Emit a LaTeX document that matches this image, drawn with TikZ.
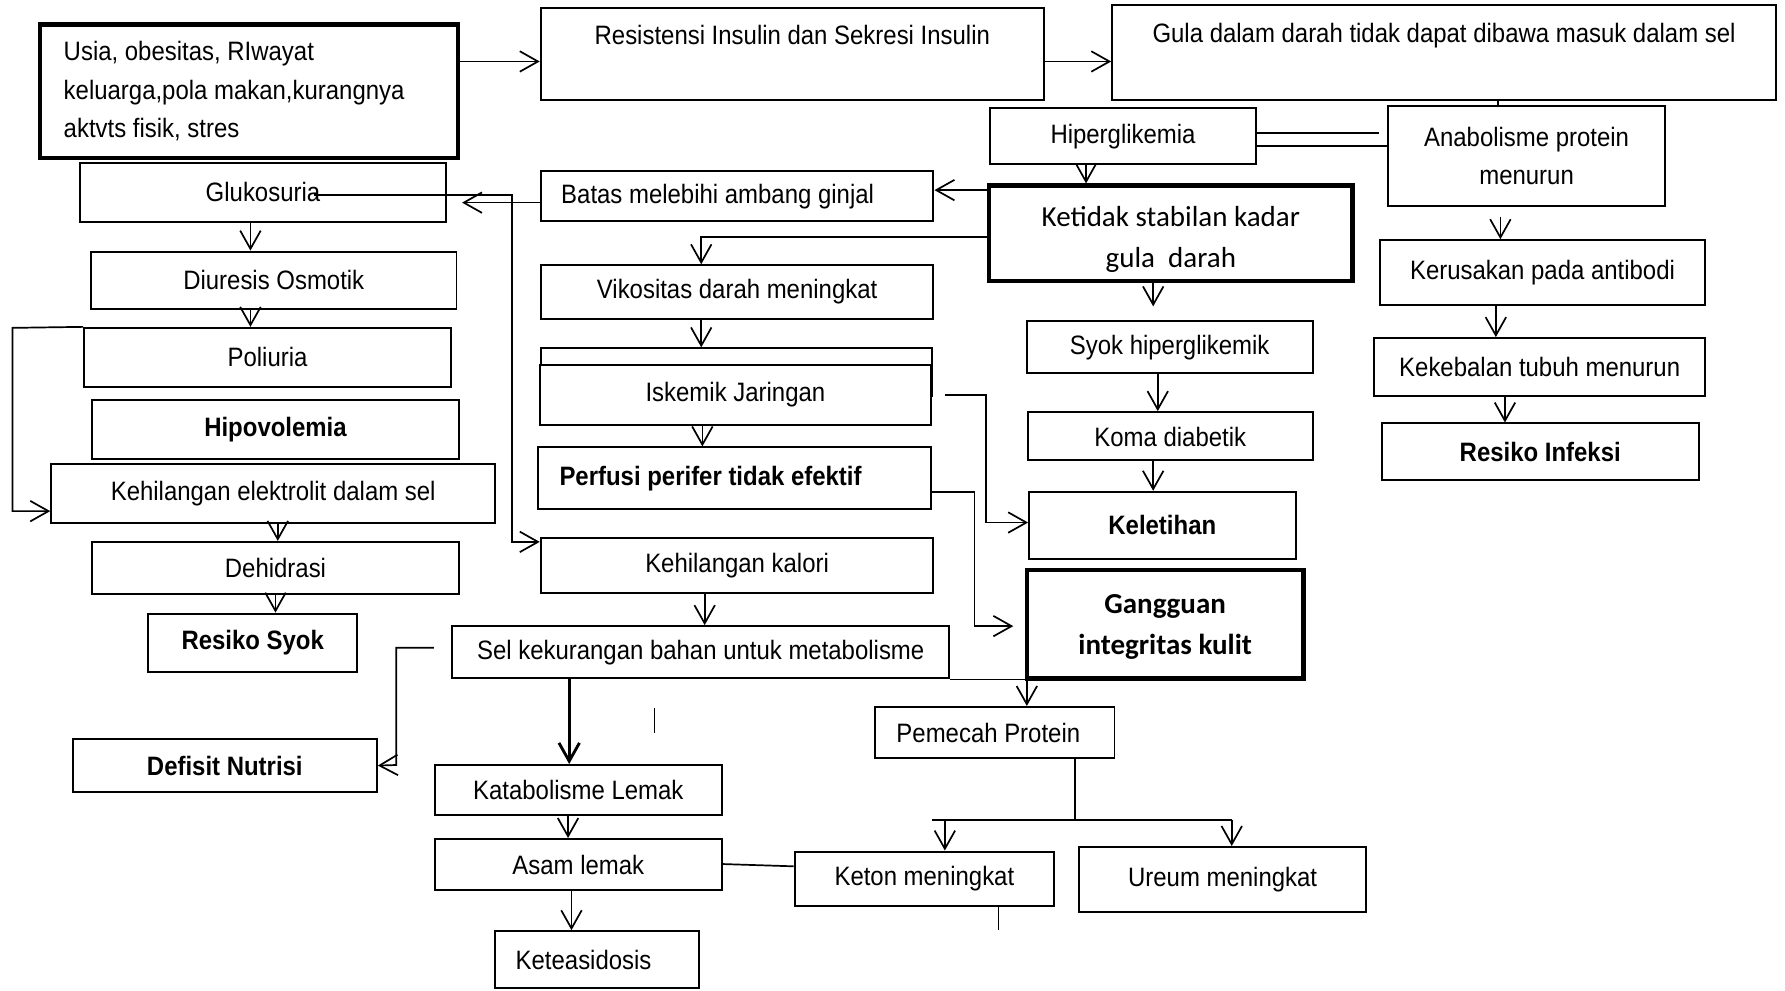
\documentclass[tikz,border=0pt]{standalone}
\usepackage{fontspec}
\usepackage{tikz}
\usetikzlibrary{arrows.meta,positioning}
\newfontfamily\nar{Liberation Sans}[FakeStretch=0.9]
\newfontfamily\calib{Carlito}
\newcommand{\fn}{\nar\fontsize{13.3}{19.3}\selectfont}
\newcommand{\fc}{\calib\fontsize{14.5}{20.5}\selectfont}

\begin{document}
\begin{tikzpicture}[
    x=0.2mm, y=-0.2mm,
    box/.style={draw, line width=0.35mm, inner sep=0pt, font=\fn, align=center},
    bbox/.style={box, font=\fn\bfseries},
    hbox/.style={box, line width=0.75mm},
    sz/.style 2 args={minimum width=#1*0.2mm, minimum height=#2*0.2mm},
    arr/.style={-{Straight Barb[length=3.2mm,width=3.6mm]}, line width=0.3mm},
    ln/.style={line width=0.3mm}
]
\useasboundingbox (0,0) rectangle (1568,870);

\node[hbox, sz={367}{117}, text width=65mm, align=flush left] (usia) at (218.5,80) {Usia, obesitas, RIwayat\\keluarga,pola makan,kurangnya\\aktvts fisik, stres};
\node[box, sz={442}{81}] (res) at (696,47.5) {Resistensi Insulin dan Sekresi Insulin\\\mbox{}};
\node[box, sz={583}{84}] (gula) at (1268.5,46) {Gula dalam darah tidak dapat dibawa masuk dalam sel\\\mbox{}};
\node[box, sz={233}{49}] (hip) at (986.5,119.5) {\rule{0pt}{3.6mm}Hiperglikemia};
\node[box, sz={244}{88}] (ana) at (1341,137) {Anabolisme protein\\menurun};
\node[box, sz={345}{44}, text width=61.8mm, align=flush left] (bat) at (647.5,172) {\rule{0pt}{3.6mm}Batas melebihi ambang ginjal};
\node[hbox, font=\fc, sz={319}{84}] (ket) at (1028.5,205) {\rule{0pt}{5.7mm}Ketidak stabilan kadar\\gula\ \ darah};
\node[box, sz={286}{57}] (rus) at (1355,239.5) {Kerusakan pada antibodi};
\node[box, sz={291}{51}] (kek) at (1352.5,322.5) {Kekebalan tubuh menurun};
\node[bbox, sz={278}{50}] (rinf) at (1353,397) {Resiko Infeksi};

\node[box, sz={322}{52}] (glu) at (231,169) {Glukosuria};
\node[box, sz={321}{50}] (diu) at (240.5,246) {Diuresis Osmotik};
\node[box, sz={322}{52}] (pol) at (235,314) {Poliuria};
\node[bbox, sz={322}{52}] (hipo) at (242,377) {Hipovolemia};
\node[box, sz={390}{51}] (elek) at (240,433.5) {Kehilangan elektrolit dalam sel};
\node[box, sz={322}{46}] (deh) at (242,499) {Dehidrasi};
\node[bbox, sz={184}{51}] (rsyok) at (222,564.5) {Resiko Syok};

\node[box, sz={345}{47}] (vik) at (647.5,256.5) {Vikositas darah meningkat};
\node[box, sz={344}{42}] (isk0) at (647,327) {};
\node[box, fill=white, sz={344}{52}] (isk) at (646,347) {Iskemik Jaringan};
\node[bbox, sz={345}{54}, text width=61.6mm, align=flush left] (perf) at (645.5,420) {Perfusi perifer tidak efektif};
\node[box, sz={345}{48}] (kal) at (647.5,497) {Kehilangan kalori};
\node[box, sz={437}{46}] (sel) at (615.5,573) {\rule{0pt}{3.6mm}Sel kekurangan bahan untuk metabolisme};
\node[bbox, sz={267}{47}] (def) at (197.5,672.5) {Defisit Nutrisi};
\node[box, sz={252}{44}] (kat) at (508,694) {Katabolisme Lemak};
\node[box, sz={252}{45}] (asam) at (508,759.5) {Asam lemak};
\node[box, sz={179}{50}, text width=28.6mm, align=flush left] (asid) at (524.5,843) {Keteasidosis};

\node[box, sz={251}{46}] (syok) at (1027.5,305) {Syok hiperglikemik};
\node[box, sz={250}{42}] (koma) at (1028,383) {\rule{0pt}{3.6mm}Koma diabetik};
\node[bbox, sz={234}{59}] (leti) at (1021,461.5) {Keletihan};
\node[hbox, font=\fc\bfseries, sz={243}{95}] (kulit) at (1023.5,548.5) {\rule{0pt}{4.2mm}Gangguan\\integritas kulit};
\node[box, sz={210}{45}, text width=34.6mm, align=flush left] (pem) at (874,643.5) {Pemecah Protein};
\node[box, sz={228}{48}] (keton) at (812,772) {Keton meningkat};
\node[box, sz={252}{57}] (ureum) at (1074,772.5) {Ureum meningkat};

\coordinate (g0) at (276,171);
\coordinate (h0) at (1211,117);
\coordinate (m0) at (575,622);
\coordinate (m1) at (575,644);
\coordinate (k0) at (877,817);
\coordinate (jl) at (819,720);
\coordinate (jm) at (944,720);
\coordinate (jr) at (1082,720);

\draw[arr] (usia.east |- 0,54) -- (res.west |- 0,54);
\draw[arr] (res.east |- 0,54) -- (gula.west |- 0,54);
\draw[ln] (gula.south -| 1316,0) -- (ana.north -| 1316,0);
\draw[ln] (hip.east |- 0,117) -- (h0);
\draw[ln] (hip.east |- 0,128) -- (ana.west |- 0,128);
\draw[arr] (hip.south -| 954,0) -- (ket.north -| 954,0);
\draw[arr] (ket.west |- 0,167) -- (bat.east |- 0,167);
\draw[arr] (ket.west |- 0,208) -| (vik.north -| 616,0);
\draw[arr, shorten >=2.6mm] (bat.west |- 0,178) -- (glu.east |- 0,178);
\draw[arr] (g0) -- (450,171) -- (450,476) -- (kal.west |- 0,476);

\draw[arr] (glu.south -| 220,0) -- (diu.north -| 220,0);
\draw[arr] (diu.south -| 220,0) -- (pol.north -| 220,0);
\draw[arr] (pol.north west) -- (11,288) -- (11,449) -- (elek.west |- 0,449);
\draw[arr] (elek.south -| 244,0) -- (deh.north -| 244,0);
\draw[arr] (deh.south -| 242,0) -- (rsyok.north -| 242,0);

\draw[arr] (vik.south -| 616,0) -- (isk0.north -| 616,0);
\draw[arr] (isk.south -| 617,0) -- (perf.north -| 617,0);
\draw[arr, shorten <=2.2mm] (isk.east |- 0,347) -- (866,347) -- (866,459) -- (leti.west |- 0,459);
\draw[arr, shorten >=2mm] (perf.east |- 0,432) -- (856,432) -- (856,550) -- (kulit.west |- 0,550);
\draw[arr] (kal.south -| 619,0) -- (sel.north -| 619,0);
\draw[arr, shorten <=3mm] (sel.west |- 0,569) -- (348,569) -- (348,672) -- (def.east);
\draw[arr, line width=0.5mm] (sel.south -| 500,0) -- (kat.north -| 500,0);
\draw[arr] (sel.south east) -| (pem.north -| 902,0);
\draw[ln] (m0) -- (m1);
\draw[arr] (kat.south -| 499,0) -- (asam.north -| 499,0);
\draw[arr] (asam.south -| 502,0) -- (asid.north -| 502,0);
\draw[ln] (asam.east |- 0,759) -- (keton.west |- 0,761);
\draw[ln] (pem.south -| jm) -- (jm);
\draw[ln] (jl) -- (jr);
\draw[arr] (jl -| 830,0) -- (keton.north -| 830,0);
\draw[arr] (jr) -- (ureum.north -| jr);
\draw[ln] (keton.south -| k0) -- (k0);

\draw[arr, shorten >=2.4mm] (ket.south -| 1013,0) -- (syok.north -| 1013,0);
\draw[arr] (syok.south -| 1017,0) -- (koma.north -| 1017,0);
\draw[arr] (koma.south -| 1013,0) -- (leti.north -| 1013,0);
\draw[arr, shorten <=1.7mm] (ana.south -| 1318,0) -- (rus.north -| 1318,0);
\draw[arr] (rus.south -| 1314,0) -- (kek.north -| 1314,0);
\draw[arr] (kek.south -| 1322,0) -- (rinf.north -| 1322,0);

\end{tikzpicture}
\end{document}
